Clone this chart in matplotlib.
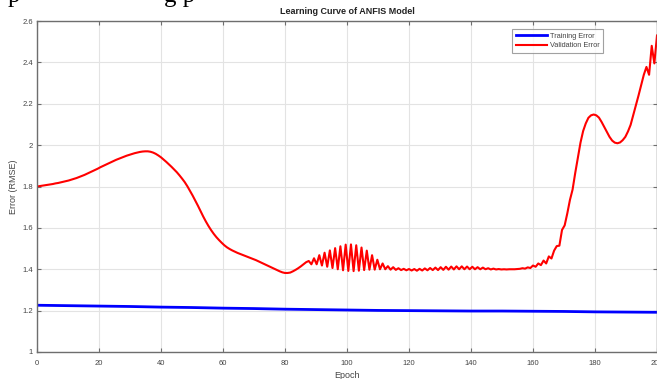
import numpy as np
import matplotlib
matplotlib.use("Agg")
import matplotlib.pyplot as plt

# ---------------- data ----------------
validation_error = [
    # epochs ~0 - 35
    1.800, 1.802, 1.804, 1.806, 1.808, 1.810, 1.812, 1.815, 1.817, 1.820,
    1.823, 1.826, 1.829, 1.833, 1.837, 1.841, 1.846, 1.851, 1.856, 1.862,
    1.868, 1.874, 1.880, 1.886, 1.893, 1.899, 1.905, 1.911, 1.917, 1.923,
    1.929, 1.934, 1.939, 1.944, 1.949, 1.953, 1.957, 1.961, 1.964, 1.967,
    1.969, 1.970, 1.970,
    # epochs ~36 - 87
    1.968, 1.964, 1.958, 1.950, 1.941, 1.930, 1.919, 1.907, 1.895, 1.882,
    1.869, 1.854, 1.838, 1.821, 1.801, 1.779, 1.756, 1.732, 1.707, 1.681,
    1.655, 1.631, 1.609, 1.589, 1.571, 1.555, 1.541, 1.528, 1.516, 1.506,
    1.498, 1.491, 1.485, 1.479, 1.474, 1.469, 1.464, 1.459, 1.454, 1.449,
    1.444, 1.438, 1.432, 1.426, 1.420, 1.414, 1.408, 1.402, 1.396, 1.390,
    1.385, 1.382, 1.382, 1.384, 1.390, 1.397, 1.405, 1.414, 1.424, 1.434,
    # epochs ~88 - 118 (oscillation)
    1.440, 1.424, 1.453, 1.424, 1.468, 1.418, 1.480, 1.412, 1.491, 1.406,
    1.502, 1.400, 1.511, 1.395, 1.519, 1.392, 1.520, 1.391, 1.516, 1.393,
    1.505, 1.396, 1.490, 1.398, 1.468, 1.398, 1.446, 1.400, 1.428, 1.400,
    1.415, 1.398, 1.410, 1.397, 1.405, 1.396,
    # epochs ~118 - 158
    1.402, 1.395, 1.401, 1.394, 1.401, 1.393, 1.402, 1.394, 1.404, 1.395,
    1.406, 1.396, 1.408, 1.396, 1.410, 1.397, 1.412, 1.398, 1.413, 1.399,
    1.414, 1.400, 1.414, 1.400, 1.413, 1.400, 1.412, 1.400, 1.410, 1.400,
    1.408, 1.400, 1.405, 1.399, 1.403, 1.399, 1.401, 1.399, 1.400, 1.399,
    1.400, 1.400, 1.400, 1.401, 1.402, 1.405, 1.403,
    # epochs ~158 - 200
    1.409, 1.406, 1.418, 1.412, 1.428, 1.420, 1.442, 1.428, 1.462, 1.452,
    1.490, 1.512, 1.514, 1.590, 1.612, 1.670, 1.735, 1.785, 1.865, 1.940,
    2.012, 2.068, 2.105, 2.132, 2.144, 2.148, 2.144, 2.133, 2.112, 2.088,
    2.063, 2.040, 2.022, 2.012, 2.009, 2.013, 2.024, 2.040, 2.066, 2.098,
    2.145, 2.190, 2.240, 2.290, 2.340, 2.378, 2.340, 2.480, 2.395, 2.530,
]
validation_epochs = np.linspace(0, 200, len(validation_error))

training_epochs = [0, 10, 20, 30, 40, 50, 60, 70, 80, 90, 100,
                   110, 120, 130, 140, 150, 160, 170, 180, 190, 200]
training_error = [1.226, 1.224, 1.222, 1.220, 1.217, 1.215, 1.212, 1.210, 1.207, 1.205, 1.203,
                  1.201, 1.200, 1.199, 1.198, 1.198, 1.197, 1.196, 1.194, 1.193, 1.192]

x_ticks = [0, 20, 40, 60, 80, 100, 120, 140, 160, 180, 200]
y_ticks = [1.0, 1.2, 1.4, 1.6, 1.8, 2.0, 2.2, 2.4, 2.6]
y_tick_labels = ["1", "1.2", "1.4", "1.6", "1.8", "2", "2.2", "2.4", "2.6"]

# ---------------- plot ----------------
plt.rcParams['font.family'] = ['Liberation Sans', 'DejaVu Sans']

W, H = 657, 379
fig = plt.figure(figsize=(W / 100, H / 100), dpi=100)
fig.patch.set_facecolor('white')
ax = fig.add_axes([37 / W, 27 / H, 620 / W, 331 / H])

ax.plot(training_epochs, training_error, color='#0000ff', lw=2.0, label='Training Error')
ax.plot(validation_epochs, validation_error, color='#ff0000', lw=1.5, label='Validation Error')

ax.set_xlim(0, 200)
ax.set_ylim(1.0, 2.6)
ax.set_xticks(x_ticks)
ax.set_xticklabels([str(t) for t in x_ticks])
ax.set_yticks(y_ticks)
ax.set_yticklabels(y_tick_labels)

ax.grid(True, color='#e3e3e3', lw=0.8)
ax.set_axisbelow(True)
for s in ax.spines.values():
    s.set_color('#6e6e6e')
    s.set_linewidth(1.0)
ax.tick_params(direction='in', length=3, width=0.8, color='#6e6e6e',
               labelsize=5.5, labelcolor='#444444', top=True, right=True)
ax.tick_params(axis='x', pad=6)
ax.tick_params(axis='y', pad=3)

ax.set_title('Learning Curve of ANFIS Model', fontsize=6.5, fontweight='bold',
             color='#222222', pad=5)
ax.set_xlabel('Epoch', fontsize=6.5, color='#444444', labelpad=3)
ax.set_ylabel('Error (RMSE)', fontsize=6.5, color='#444444', labelpad=3)

leg = ax.legend(loc='upper right', bbox_to_anchor=(0.913, 0.976), fontsize=5.3,
                frameon=True, fancybox=False, handlelength=4.2, borderpad=0.5,
                labelspacing=0.3, handletextpad=0.4, borderaxespad=0)
leg.get_frame().set_edgecolor('#8a8a8a')
leg.get_frame().set_linewidth(0.8)
for t in leg.get_texts():
    t.set_color('#444444')

# remnants of the document text line cut off at the top of the picture
fig.text(8 / W, 1 - 2 / H, 'p', fontsize=18, family='Liberation Serif',
         color='black', va='baseline', ha='left')
fig.text(164 / W, 1 - 2 / H, 'g p', fontsize=18, family='Liberation Serif',
         color='black', va='baseline', ha='left')

fig.savefig('out.png', dpi=100, facecolor='white')
